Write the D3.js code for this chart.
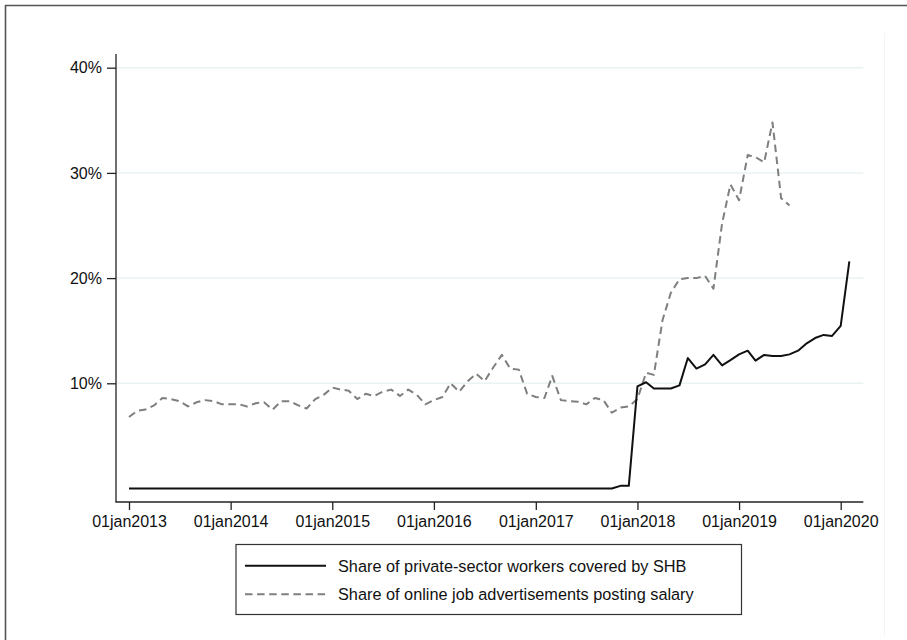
<!DOCTYPE html>
<html>
<head>
<meta charset="utf-8">
<script src="https://cdn.jsdelivr.net/npm/d3@7"></script>
<style>
  html, body { margin: 0; padding: 0; background: #fff; }
  svg { display: block; font-family: "Liberation Sans", Arial, Helvetica, sans-serif; }
</style>
</head>
<body>
<svg id="chart" width="907" height="640"></svg>
<script>
// ---- Data (monthly, first of month) ----
const shbStart = [2013, 0];      // Jan 2013
const adsStart = [2013, 0];      // Jan 2013

// Share of private-sector workers covered by SHB (%), Jan 2013 .. Feb 2020
const shbValues = [
  // 2013
  0,0,0,0,0,0,0,0,0,0,0,0,
  // 2014
  0,0,0,0,0,0,0,0,0,0,0,0,
  // 2015
  0,0,0,0,0,0,0,0,0,0,0,0,
  // 2016
  0,0,0,0,0,0,0,0,0,0,0,0,
  // 2017
  0,0,0,0,0,0,0,0,0,0,0.25,0.25,
  // 2018
  9.7,10.1,9.5,9.5,9.5,9.8,12.4,11.4,11.8,12.7,11.7,12.2,
  // 2019
  12.75,13.1,12.15,12.7,12.6,12.6,12.75,13.1,13.8,14.3,14.6,14.5,
  // 2020
  15.45,21.6
];

// Share of online job advertisements posting salary (%), Jan 2013 .. Jul 2019
const adsValues = [
  // 2013
  6.8,7.4,7.5,7.9,8.6,8.5,8.3,7.8,8.2,8.4,8.3,8.0,
  // 2014
  8.0,8.0,7.8,8.1,8.2,7.5,8.3,8.3,7.9,7.6,8.5,8.9,
  // 2015
  9.6,9.4,9.3,8.5,9.0,8.8,9.2,9.4,8.8,9.4,8.9,8.0,
  // 2016
  8.4,8.7,10.0,9.2,10.2,10.9,10.2,11.5,12.7,11.4,11.3,9.0,
  // 2017
  8.7,8.6,10.7,8.4,8.3,8.25,8.0,8.6,8.4,7.2,7.7,7.8,
  // 2018
  8.5,11.0,10.8,16.0,18.6,19.9,20.0,20.0,20.2,19.0,25.2,28.9,
  // 2019
  27.4,31.7,31.5,31.0,34.8,27.6,26.9
];

const yTicks = [0.10, 0.20, 0.30, 0.40];
const xTickYears = [2013, 2014, 2015, 2016, 2017, 2018, 2019, 2020];

const seriesLabels = [
  "Share of private-sector workers covered by SHB",
  "Share of online job advertisements posting salary"
];

// ---- Build series ----
function toSeries(start, vals) {
  return vals.map((v, i) => ({ date: new Date(start[0], start[1] + i, 1), value: v / 100 }));
}
const shb = toSeries(shbStart, shbValues);
const ads = toSeries(adsStart, adsValues);

// ---- Layout ----
const svg = d3.select("#chart");
const DASH = "7.5,4.6";

// outer frame (top and left borders)
svg.append("line").attr("x1", 5).attr("x2", 907).attr("y1", 5.5).attr("y2", 5.5)
  .attr("stroke", "#555").attr("stroke-width", 1.6);
svg.append("line").attr("x1", 5.5).attr("x2", 5.5).attr("y1", 5).attr("y2", 640)
  .attr("stroke", "#555").attr("stroke-width", 1.6);
// faint inner region edge
svg.append("line").attr("x1", 884.5).attr("x2", 884.5).attr("y1", 33).attr("y2", 636)
  .attr("stroke", "#f4f4f4").attr("stroke-width", 1);

const x = d3.scaleTime()
  .domain([new Date(2013, 0, 1), new Date(2020, 0, 1)])
  .range([129, 840.7]);
const y = d3.scaleLinear().domain([0, 0.4]).range([488.5, 67.7]);

const lastDate = shb[shb.length - 1].date;
const plotLeft = 116, plotRight = x(lastDate) + 14;
const axisY = 502, axisTop = 54;

// gridlines
svg.append("g").selectAll("line").data(yTicks).join("line")
  .attr("x1", plotLeft + 1).attr("x2", plotRight)
  .attr("y1", d => y(d)).attr("y2", d => y(d))
  .attr("stroke", "#eaf2f3").attr("stroke-width", 1.5);

// lines
const line = d3.line().x(d => x(d.date)).y(d => y(d.value));
svg.append("path").datum(ads).attr("d", line)
  .attr("fill", "none").attr("stroke", "#7f7f7f").attr("stroke-width", 2)
  .attr("stroke-dasharray", DASH).attr("stroke-linejoin", "round");
svg.append("path").datum(shb).attr("d", line)
  .attr("fill", "none").attr("stroke", "#111").attr("stroke-width", 2)
  .attr("stroke-linejoin", "round");

// y axis
const yAxis = d3.axisLeft(y).tickValues(yTicks).tickFormat(d3.format(".0%")).tickSize(9).tickPadding(5);
const gy = svg.append("g").attr("transform", `translate(${plotLeft},0)`).call(yAxis);
gy.select(".domain").remove();
gy.selectAll(".tick line").attr("stroke", "#222").attr("stroke-width", 1.3);
gy.selectAll(".tick text").attr("font-size", 16).attr("fill", "#111")
  .attr("font-family", "'Liberation Sans', Arial, Helvetica, sans-serif");
svg.append("line").attr("x1", plotLeft).attr("x2", plotLeft).attr("y1", axisTop).attr("y2", axisY)
  .attr("stroke", "#222").attr("stroke-width", 1.3);

// x axis
const xAxis = d3.axisBottom(x)
  .tickValues(xTickYears.map(yy => new Date(yy, 0, 1)))
  .tickFormat(d => "01jan" + d.getFullYear())
  .tickSize(8).tickPadding(6);
const gx = svg.append("g").attr("transform", `translate(0,${axisY})`).call(xAxis);
gx.select(".domain").remove();
gx.selectAll(".tick line").attr("stroke", "#222").attr("stroke-width", 1.3);
gx.selectAll(".tick text").attr("font-size", 16).attr("fill", "#111")
  .attr("font-family", "'Liberation Sans', Arial, Helvetica, sans-serif");
svg.append("line").attr("x1", plotLeft - 0.6).attr("x2", plotRight).attr("y1", axisY).attr("y2", axisY)
  .attr("stroke", "#222").attr("stroke-width", 1.3);

// legend
const lg = svg.append("g");
lg.append("rect").attr("x", 236).attr("y", 544.5).attr("width", 505.5).attr("height", 70)
  .attr("fill", "#fff").attr("stroke", "#333").attr("stroke-width", 1.2);
const legendItems = [
  { label: seriesLabels[0], stroke: "#111", dash: null, cy: 565.7 },
  { label: seriesLabels[1], stroke: "#7f7f7f", dash: DASH, cy: 594.3 }
];
legendItems.forEach(it => {
  lg.append("line").attr("x1", 245).attr("x2", 326).attr("y1", it.cy).attr("y2", it.cy)
    .attr("stroke", it.stroke).attr("stroke-width", 2)
    .attr("stroke-dasharray", it.dash);
  lg.append("text").attr("x", 338).attr("y", it.cy).attr("dy", "0.36em")
    .attr("font-size", 16.3).attr("fill", "#111").text(it.label);
});
</script>
</body>
</html>
